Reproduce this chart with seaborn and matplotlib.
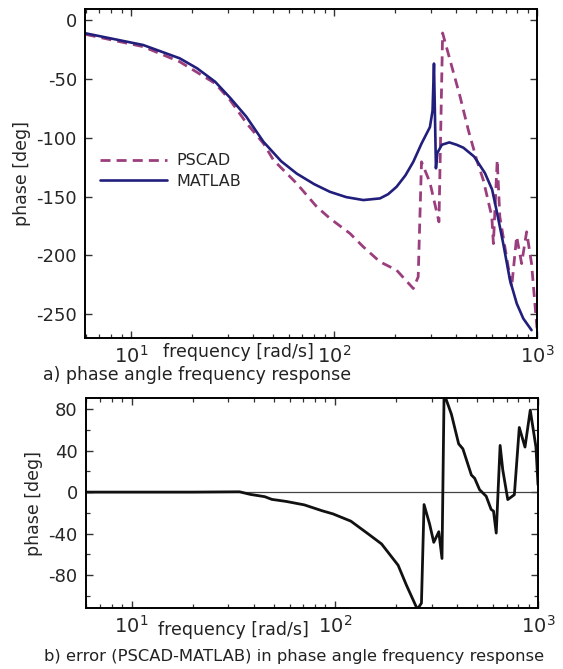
import numpy as np
import pandas as pd
import matplotlib
matplotlib.use("Agg")
import matplotlib.pyplot as plt
import matplotlib.ticker as mticker
import seaborn as sns

# ---------------- data ----------------
matlab_freq = [6.0, 11.5, 17.4, 21.2, 26.0, 30.8, 37.0, 45.0, 55.0, 65.6, 80.0, 95.6,
               115, 139.6, 168.6, 185, 203.6, 225, 246, 270, 297, 306, 311, 318, 323,
               340, 370, 402, 434, 490, 554, 601, 632, 682, 736, 795, 856, 940]
matlab_phase = [-11.3, -21.2, -32.5, -41, -52.4, -66, -82, -103.5, -120, -130.5, -139.5, -146,
                -150.5, -153, -151.6, -148, -141.7, -132, -120.5, -105, -91, -77, -37, -126, -113,
                -106, -104, -106, -108.5, -116, -130, -144, -161.6, -190, -221, -241, -253.7, -263.6]

pscad_freq = [6.0, 11.5, 17.4, 26.0, 30.8, 37.2, 45.0, 50.4, 65.6, 82.3, 95.6, 120,
              139.6, 168.6, 203.6, 246, 260, 270, 297, 329, 343, 373, 418, 459, 505,
              544, 599, 610, 637, 656, 695, 750, 794, 840, 889, 940, 995, 1000]
pscad_phase = [-12.2, -22.6, -35.4, -53.8, -68, -87.8, -104.9, -119, -138.9, -158.7, -168.6, -181.4,
               -192.8, -205.5, -212.6, -228.2, -218.3, -120.5, -138, -171.5, -11, -34, -65, -93.5, -119,
               -136, -167, -190, -119, -167, -193, -227, -184, -207, -180, -207, -258, -262]

err_freq = [6.0, 10, 20, 34, 38.4, 45.2, 49, 57.7, 70.8, 86.7, 98, 120, 147, 170, 205, 225,
            255, 267, 275, 293, 307, 325, 337, 345, 375, 407, 427, 470, 488, 516, 556, 588,
            604, 623, 651, 671, 710, 765, 809, 863, 916, 977, 1000]
err_phase = [0, 0, 0, 0.3, -2.2, -4.4, -7, -9, -12.3, -18, -21, -28, -40.7, -50, -70.5, -89.5,
             -113, -107, -12, -31, -48.4, -38.2, -64, 95, 75, 46.5, 41.7, 16.5, 13.3, 2.3, -4, -16.7,
             -18.3, -39.5, 45, 21.3, -7.2, -2.5, 62.3, 43.4, 79, 43.4, 7]

top_yticks = [0, -50, -100, -150, -200, -250]
bot_yticks = [80, 40, 0, -40, -80]
bot_yminor = [60, 20, -20, -60, -100]
xticks = [10, 100, 1000]

# ---------------- style ----------------
sns.set_theme(style="ticks")
plt.rcParams['font.family'] = ['DejaVu Sans']
plt.rcParams['mathtext.default'] = 'regular'
plt.rcParams['axes.unicode_minus'] = False

NAVY = "#221e7c"
MAG = "#9b3e7d"

fig = plt.figure(figsize=(5.63, 6.69), dpi=100)
W, H = 563, 669
ax1 = fig.add_axes([85.3 / W, 1 - 337.7 / H, (537 - 85.3) / W, (337.7 - 9) / H])
ax2 = fig.add_axes([86 / W, 1 - 608.3 / H, (538 - 86) / W, (608.3 - 397.7) / H])

df_m = pd.DataFrame({"f": matlab_freq, "p": matlab_phase})
df_p = pd.DataFrame({"f": pscad_freq, "p": pscad_phase})
df_e = pd.DataFrame({"f": err_freq, "p": err_phase})

sns.lineplot(data=df_p, x="f", y="p", ax=ax1, color=MAG, lw=2.0, sort=False,
             estimator=None, linestyle=(0, (3.6, 2.2)), label="PSCAD")
sns.lineplot(data=df_m, x="f", y="p", ax=ax1, color=NAVY, lw=1.9, sort=False,
             estimator=None, label="MATLAB")

ax2.axhline(0, color="#444444", lw=0.9, zorder=1)
sns.lineplot(data=df_e, x="f", y="p", ax=ax2, color="#111111", lw=2.0, sort=False,
             estimator=None)

fmt = mticker.FuncFormatter(lambda v, pos: r"$10^{%d}$" % int(round(np.log10(v))))
for ax in (ax1, ax2):
    ax.set_xscale("log")
    ax.set_xlim(5.97, 1000)
    ax.set_xticks(xticks)
    ax.xaxis.set_major_formatter(fmt)
    ax.xaxis.set_minor_locator(mticker.LogLocator(base=10, subs=np.arange(2, 10)))
    ax.xaxis.set_minor_formatter(mticker.NullFormatter())
    ax.set_xlabel("")
    ax.set_ylabel("phase [deg]", fontsize=12.5, labelpad=4)
    ax.tick_params(which="major", direction="in", length=5, width=1, top=True, right=True,
                   labelsize=13, pad=6, color="#333333")
    ax.tick_params(which="minor", direction="in", length=3, width=0.9, top=True, right=True,
                   color="#333333")
    ax.tick_params(axis="x", which="major", pad=5, labelsize=14)
    for s in ax.spines.values():
        s.set_color("black")
        s.set_linewidth(1.4)

ax1.set_ylim(-270, 9.4)
ax1.set_yticks(top_yticks)
ax2.set_ylim(-112, 91)
ax2.set_yticks(bot_yticks)
ax2.set_yticks(bot_yminor, minor=True)

leg = ax1.legend(loc="upper left", bbox_to_anchor=(0.015, 0.585), frameon=False,
                 fontsize=11.5, handlelength=4.2, handletextpad=0.6, labelspacing=0.35,
                 borderpad=0)

ax1.text(0.34, -0.044, "frequency [rad/s]", transform=ax1.transAxes, ha="center",
         va="center", fontsize=12.5, color="#222222")
ax2.text(0.327, -0.103, "frequency [rad/s]", transform=ax2.transAxes, ha="center",
         va="center", fontsize=12.5, color="#222222")
fig.text(43 / W, 1 - 375 / H, "a) phase angle frequency response", ha="left", va="center",
         fontsize=12.5, color="#222222")
fig.text(44 / W, 1 - 657 / H, "b) error (PSCAD-MATLAB) in phase angle frequency response",
         ha="left", va="center", fontsize=11.8, color="#222222")

fig.savefig("out.png", dpi=100)
